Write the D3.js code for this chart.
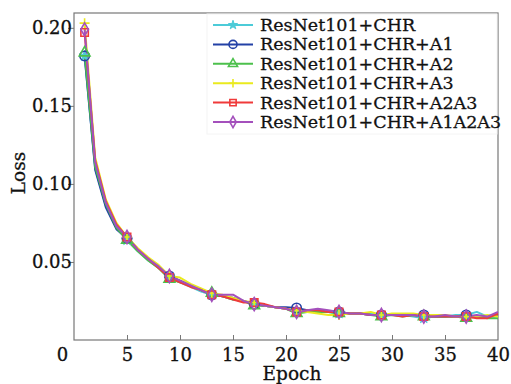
<!DOCTYPE html>
<html>
<head>
<meta charset="utf-8">
<script src="https://cdn.jsdelivr.net/npm/d3@7"></script>
<style>
  body { margin: 0; background: #fff; }
  text { font-family: "DejaVu Serif", serif; stroke: #111; stroke-width: 0.3px; }
</style>
</head>
<body>
<script>
let epochs = d3.range(1, 41)
let seriesNames = ['ResNet101+CHR', 'ResNet101+CHR+A1', 'ResNet101+CHR+A2', 'ResNet101+CHR+A3', 'ResNet101+CHR+A2A3', 'ResNet101+CHR+A1A2A3']

let chr = [0.182,0.110,0.086,0.072,0.064,0.057,0.051,0.046,0.040,0.037,0.034,0.031,0.029,0.028,0.026,0.025,0.023,0.022,0.021,0.020,0.018,0.019,0.019,0.018,0.017,0.017,0.017,0.017,0.016,0.016,0.016,0.015,0.014,0.015,0.015,0.016,0.016,0.018,0.015,0.015]
let chrA1 = [0.182,0.109,0.085,0.071,0.065,0.058,0.052,0.047,0.041,0.038,0.035,0.032,0.029,0.028,0.027,0.025,0.023,0.022,0.021,0.021,0.0205,0.019,0.019,0.018,0.018,0.017,0.017,0.016,0.016,0.016,0.016,0.016,0.016,0.015,0.015,0.015,0.016,0.015,0.015,0.016]
let chrA2 = [0.184,0.111,0.087,0.072,0.064,0.057,0.051,0.046,0.039,0.037,0.035,0.032,0.030,0.028,0.026,0.025,0.022,0.022,0.021,0.020,0.017,0.018,0.018,0.018,0.017,0.017,0.017,0.016,0.015,0.016,0.015,0.016,0.015,0.015,0.015,0.015,0.014,0.015,0.014,0.014]
let chrA3 = [0.203,0.117,0.090,0.075,0.066,0.059,0.053,0.048,0.041,0.040,0.036,0.033,0.030,0.029,0.027,0.025,0.024,0.022,0.021,0.020,0.019,0.018,0.017,0.016,0.016,0.017,0.017,0.018,0.016,0.017,0.017,0.017,0.016,0.016,0.016,0.015,0.015,0.015,0.016,0.015]
let chrA2A3 = [0.197,0.115,0.089,0.074,0.066,0.058,0.052,0.046,0.040,0.037,0.034,0.032,0.029,0.028,0.026,0.024,0.024,0.023,0.021,0.020,0.018,0.019,0.019,0.018,0.018,0.017,0.017,0.016,0.016,0.016,0.015,0.016,0.015,0.015,0.015,0.015,0.015,0.014,0.014,0.017]
let chrA1A2A3 = [0.199,0.114,0.088,0.073,0.066,0.058,0.052,0.047,0.041,0.038,0.035,0.032,0.029,0.029,0.029,0.025,0.023,0.022,0.021,0.020,0.018,0.019,0.020,0.019,0.018,0.017,0.017,0.016,0.016,0.016,0.016,0.016,0.015,0.015,0.016,0.015,0.015,0.016,0.015,0.018]

let xTicks = [0, 5, 10, 15, 20, 25, 30, 35, 40]
let yTicks = [0.05, 0.10, 0.15, 0.20]

let colors = ['#4ccbd8', '#2341a6', '#4cc04c', '#eaea1e', '#f03a3a', '#a450bc']
let symbols = [d3.symbolStar, d3.symbolCircle, d3.symbolTriangle, d3.symbolCross, d3.symbolSquare, d3.symbolDiamond]

let allSeries = [chr, chrA1, chrA2, chrA3, chrA2A3, chrA1A2A3]

width = 511
height = 384
margin = ({ left: 74, right: 13, top: 13, bottom: 44 })
let fs = 17.5
let axisFs = 18

let svg = d3.select('body').append('svg')
  .attr('width', width)
  .attr('height', height)

let x = d3.scaleLinear()
  .domain([0, 40])
  .range([margin.left, width - margin.right])

let y = d3.scaleLinear()
  .domain([0, 0.2095])
  .range([height - margin.bottom, margin.top])

// frame
svg.append('rect')
  .attr('x', x(0)).attr('y', y(0.2095))
  .attr('width', x(40) - x(0)).attr('height', y(0) - y(0.2095))
  .attr('fill', 'none').attr('stroke', '#777').attr('stroke-width', 1.2)

// x axis, ticks pointing in
let xAxis = d3.axisBottom(x).tickValues(xTicks).tickSizeInner(-5).tickSizeOuter(0).tickPadding(8)
let gx = svg.append('g')
  .attr('transform', `translate(0, ${y(0)})`)
  .call(xAxis)
gx.select('.domain').remove()
gx.selectAll('.tick line').attr('stroke', '#777')
gx.selectAll('.tick text').attr('font-size', axisFs).attr('fill', '#111').attr('font-family', 'DejaVu Serif')
gx.selectAll('.tick').filter(d => d === 0).select('text').attr('dx', -12)
gx.selectAll('.tick').filter(d => d === 0 || d === 40).select('line').remove()

// y axis, ticks pointing out
let yAxis = d3.axisLeft(y).tickValues(yTicks).tickFormat(d3.format('.2f')).tickSizeInner(6).tickSizeOuter(0).tickPadding(-4)
let gy = svg.append('g')
  .attr('transform', `translate(${x(0)}, 0)`)
  .call(yAxis)
gy.select('.domain').remove()
gy.selectAll('.tick line').attr('stroke', '#777')
gy.selectAll('.tick text').attr('font-size', axisFs).attr('fill', '#111').attr('font-family', 'DejaVu Serif')

svg.append('text')
  .attr('x', (x(0) + x(40)) / 2 + 6)
  .attr('y', 380)
  .attr('text-anchor', 'middle')
  .attr('font-size', 18.5)
  .attr('fill', '#111')
  .text('Epoch')

svg.append('text')
  .attr('transform', `translate(25, 173) rotate(-90)`)
  .attr('text-anchor', 'middle')
  .attr('font-size', 18.5)
  .attr('fill', '#111')
  .text('Loss')

let line = d3.line()
  .x((d, i) => x(epochs[i]))
  .y(d => y(d))

allSeries.forEach((s, k) => {
  svg.append('path')
    .attr('d', line(s))
    .attr('fill', 'none')
    .attr('stroke', colors[k])
    .attr('stroke-width', 2)
    .attr('stroke-linejoin', 'round')
})

function drawMarker(g, k, cx, cy, size) {
  let filled = k === 0
  let d
  if (k === 3) d = `M${-size/2},0H${size/2}M0,${-size/2}V${size/2}`
  else {
    let f = [0.35, 0.7, 0.5, 0, 0.55, 0.5][k]
    d = d3.symbol().type(symbols[k]).size(size * size * f)()
  }
  g.append('path')
    .attr('transform', `translate(${cx}, ${cy})`)
    .attr('d', d)
    .attr('fill', filled ? colors[k] : 'none')
    .attr('stroke', colors[k])
    .attr('stroke-width', filled ? 1 : 1.6)
}

allSeries.forEach((s, k) => {
  let g = svg.append('g')
  s.forEach((v, i) => {
    if (i % 4 === 0) drawMarker(g, k, x(epochs[i]), y(v), 10)
  })
})

// legend
let lg = svg.append('g')
lg.append('rect')
  .attr('x', 207).attr('y', 14)
  .attr('width', x(40) - 208).attr('height', 120)
  .attr('fill', '#fff').attr('stroke', '#f4f4f4')
seriesNames.forEach((name, k) => {
  let ly = 25 + k * 19.4
  lg.append('line')
    .attr('x1', 213).attr('x2', 253)
    .attr('y1', ly).attr('y2', ly)
    .attr('stroke', colors[k]).attr('stroke-width', 2)
  drawMarker(lg, k, 233, ly, 8.5)
  lg.append('text')
    .attr('x', 260).attr('y', ly + 6)
    .attr('font-size', fs)
    .attr('fill', '#111')
    .text(name)
})
</script>
</body>
</html>
